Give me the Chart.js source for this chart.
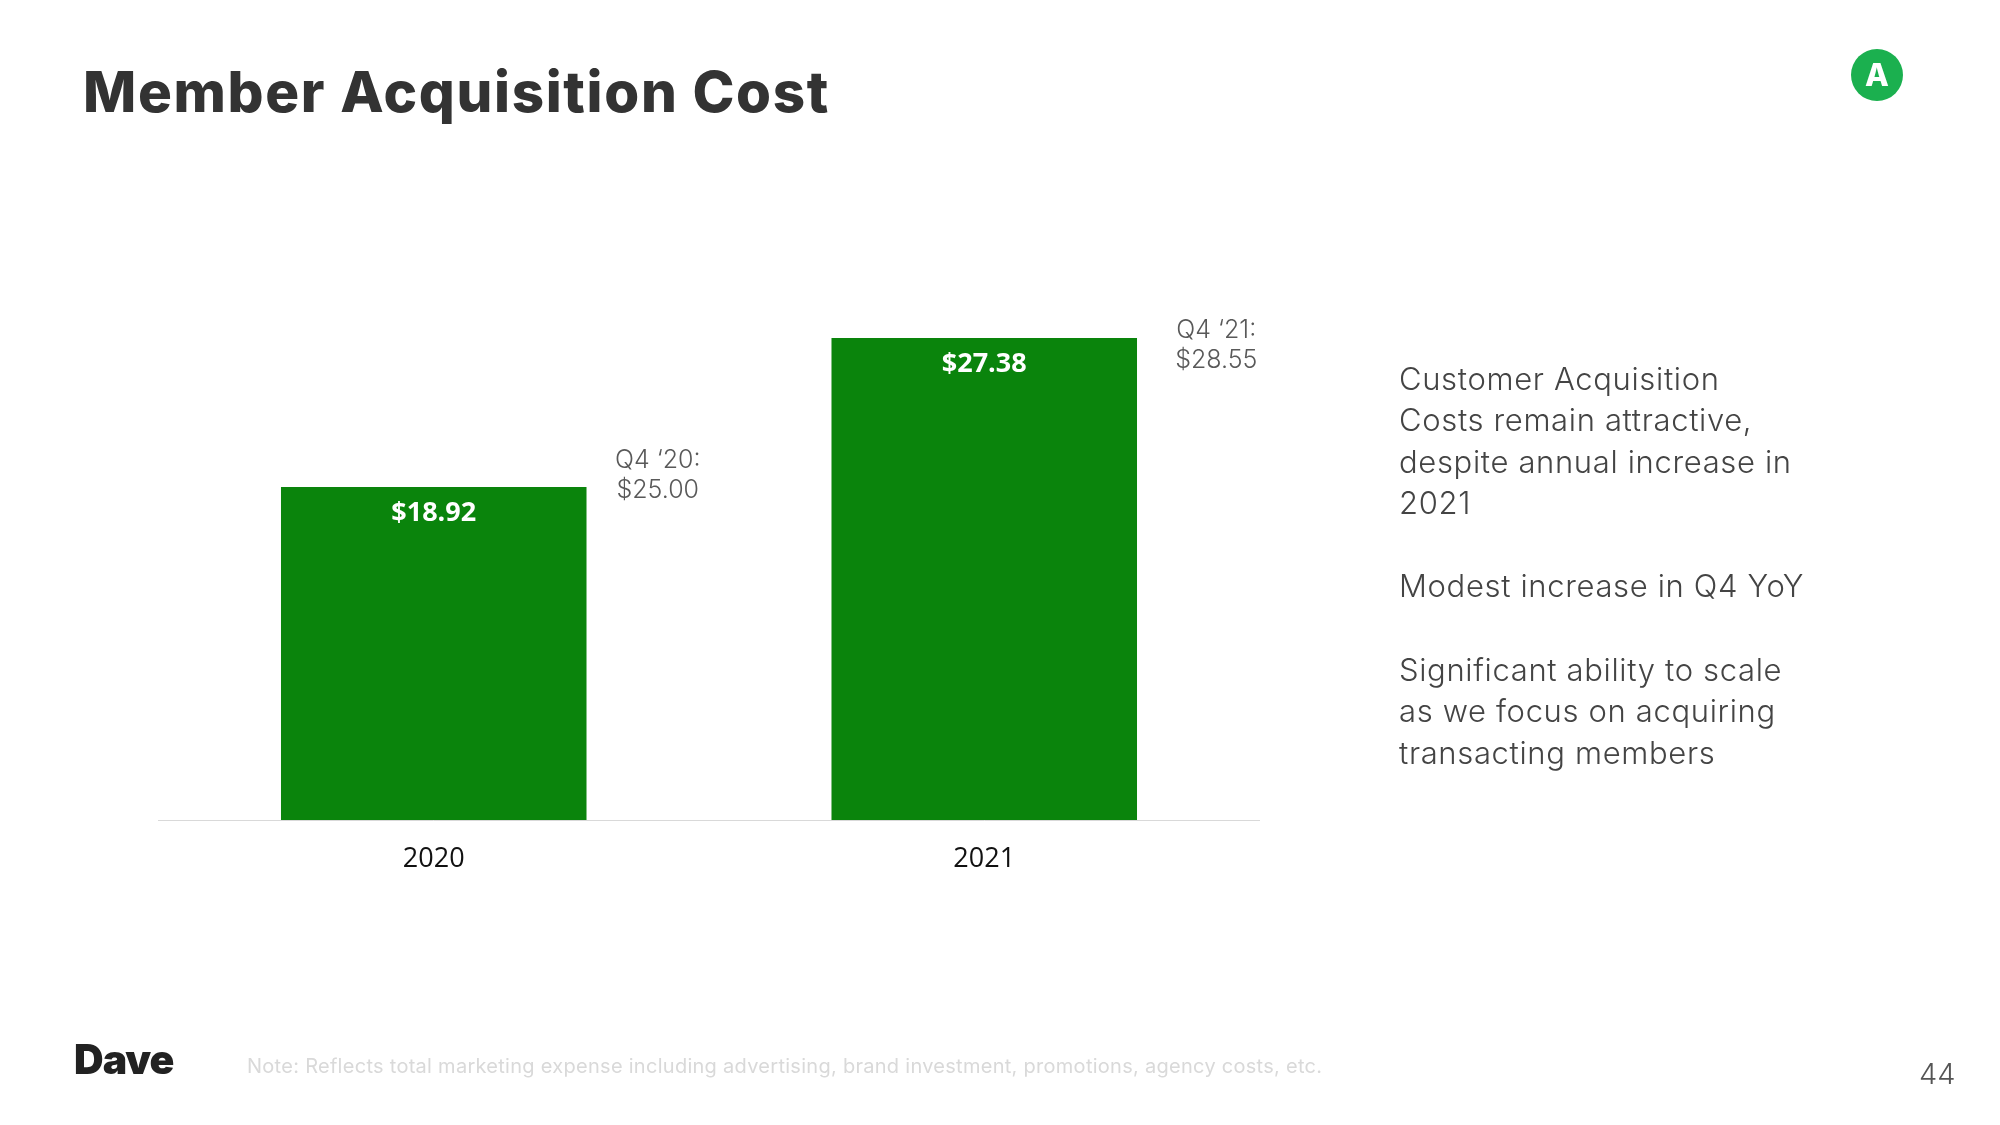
<!DOCTYPE html>
<html>
<head>
<meta charset="utf-8">
<title>Member Acquisition Cost</title>
<script src="https://cdn.jsdelivr.net/npm/chart.js@4/dist/chart.umd.js"></script>
<style>
    html, body { margin: 0; padding: 0; background: #fff; width: 2000px; height: 1125px; overflow: hidden; }
    #chart { position: absolute; left: 0; top: 0; }
    .txt { position: absolute; font-family: Inter, sans-serif; white-space: nowrap; }
    #title { left: 83px; top: 52px; font-size: 56.5px; font-weight: 800; color: #333; line-height: 80px; letter-spacing: 1.65px; }
    #badge { left: 1851px; top: 49px; width: 52px; height: 52px; border-radius: 50%; background: #1bb04f;
             color: #fff; font-size: 31px; font-weight: 800; text-align: center; line-height: 52px; }
    #side { left: 1399px; top: 357.5px; font-size: 31px; line-height: 41.6px; color: #444; font-weight: 300; letter-spacing: 0.65px; }
    #logo { left: 74px; top: 1035px; font-size: 41px; line-height: 48px; font-weight: 900; color: #222; letter-spacing: -1px; }
    #note { left: 247px; top: 1054px; font-size: 20px; line-height: 24px; color: #d9d9d9; letter-spacing: 0.28px; }
    #page { left: 1919px; top: 1056px; font-size: 29px; line-height: 36px; color: #555; font-weight: 300; }
</style>
</head>
<body>
<canvas id="chart" width="2000" height="1125"></canvas>
<div class="txt" id="title">Member Acquisition Cost</div>
<div class="txt" id="badge">A</div>
<div class="txt" id="side">Customer Acquisition<br>Costs remain attractive,<br>despite annual increase in<br>2021<br><br>Modest increase in Q4 YoY<br><br>Significant ability to scale<br>as we focus on acquiring<br>transacting members</div>
<div class="txt" id="logo">Dave</div>
<div class="txt" id="note">Note: Reflects total marketing expense including advertising, brand investment, promotions, agency costs, etc.</div>
<div class="txt" id="page">44</div>
<script>
const years = ['2020', '2021'];
const memberCost = [18.92, 27.38];
const q4Labels = ['Q4 ‘20:', 'Q4 ‘21:'];
const q4Values = ['$25.00', '$28.55'];

// values on the bars and the Q4 notes next to them
const barNotes = {
    id: 'barNotes',
    afterDatasetsDraw(chart) {
        const ctx = chart.ctx;
        chart.getDatasetMeta(0).data.forEach(function (bar, i) {
            ctx.save();
            ctx.textBaseline = 'middle';
            ctx.textAlign = 'center';
            ctx.fillStyle = '#fff';
            ctx.font = '700 27px "Open Sans"';
            ctx.fillText('$' + memberCost[i].toFixed(2), bar.x, bar.y + 26);

            ctx.fillStyle = '#595959';
            ctx.font = '300 25px Inter';
            const noteX = bar.x + 233 + (i === 0 ? -9 : -1);
            const noteY = bar.y - (i === 0 ? 27 : 8);
            ctx.fillText(q4Labels[i], noteX, noteY);
            ctx.fillText(q4Values[i], noteX, noteY + 30);
            ctx.restore();
        });
    }
};

new Chart(document.getElementById('chart').getContext('2d'), {
    type: 'bar',
    data: {
        labels: years,
        datasets: [{
            data: memberCost,
            backgroundColor: '#0a840c',
            categoryPercentage: 1,
            barPercentage: 0.555
        }]
    },
    options: {
        responsive: false,
        animation: false,
        layout: { padding: { left: 158.5, right: 740.5, top: 292, bottom: 226.5 } },
        plugins: { legend: { display: false }, tooltip: { enabled: false } },
        scales: {
            x: {
                grid: { display: false, drawTicks: false },
                border: { color: '#d9d9d9', width: 1 },
                ticks: { color: '#111', padding: 23, font: { family: '"Open Sans"', size: 27, weight: '500' } }
            },
            y: { display: false, min: 0, max: 30 }
        }
    },
    plugins: [barNotes]
});
</script>
</body>
</html>
